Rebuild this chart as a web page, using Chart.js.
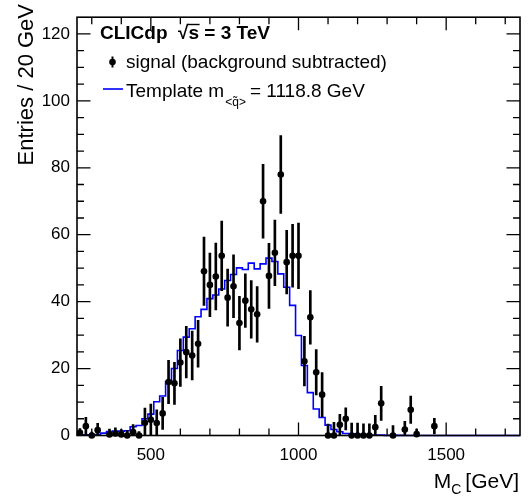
<!DOCTYPE html>
<html>
<head>
<meta charset="utf-8">
<script src="https://cdn.jsdelivr.net/npm/chart.js@4.4.0/dist/chart.umd.min.js"></script>
<style>
html,body{margin:0;padding:0;background:#fff;}
#wrap{width:528px;height:498px;position:relative;}
</style>
</head>
<body>
<div id="wrap"><canvas id="c" width="528" height="498"></canvas></div>
<script>
// ---- data ----
const binCenters = [260,280,300,320,340,360,380,400,420,440,460,480,500,520,540,560,580,600,620,640,
  660,680,700,720,740,760,780,800,820,840,860,880,900,920,940,960,980,1000,1020,1040,
  1060,1080,1100,1120,1140,1160,1180,1200,1220,1240,1260,1280,1300,1320,1340,1360,1380,1400,1420,1440,
  1460,1480,1500,1520,1540,1560,1580,1600,1620,1640,1660,1680,1700,1720,1740];
const binWidth = 20;
const signalValues = [0.8,2.8,0.0,1.6,null,0.3,0.6,0.3,0.0,1.0,0.0,3.8,4.7,3.7,6.6,16.0,15.6,21.8,24.9,23.9,
  27.4,49.1,45.0,47.5,53.7,41.2,44.6,33.6,40.3,37.7,36.2,70.0,47.7,54.6,78.0,51.8,53.7,53.7,22.2,35.3,
  18.9,12.2,0.0,0.0,3.2,5.0,0.0,0.0,0.0,0.0,2.5,9.6,null,0.0,null,1.8,7.7,0.4,null,null,
  2.8,null,null,null,null,null,null,null,null,null,null,null,null,null,null];
const signalErrors = [1.3,2.6,1.0,2.0,null,1.6,1.7,1.5,1.5,2.3,1.2,4.4,4.7,4.0,4.8,6.5,6.3,7.1,7.7,7.3,
  7.0,10.2,9.5,10.0,10.4,8.5,9.4,8.0,8.0,8.6,8.3,11.0,9.7,9.8,11.6,9.5,9.4,9.8,7.4,8.0,
  6.8,6.6,3.4,3.9,3.1,3.3,3.7,3.7,3.5,3.5,3.5,5.1,null,3.0,null,2.4,4.1,1.5,null,null,
  2.3,null,null,null,null,null,null,null,null,null,null,null,null,null,null];
const templateValues = [0.1,0.1,0.2,0.2,0.3,0.7,1.2,1.3,1.3,1.4,2.6,3.0,5.0,6.4,10.1,11.8,16.1,20.0,25.4,29.4,
  31.9,35.5,37.7,40.9,42.0,43.8,46.3,48.1,50.1,49.6,51.5,49.8,51.3,53.0,52.0,48.3,44.3,38.9,29.9,20.9,
  12.8,7.9,5.4,3.1,1.8,1.1,0.6,0.5,0.3,0.2,0.1,0.1,0.1,0.05,0.05,0.05,0,0,0,0,
  0,0,0,0,0,0,0,0,0,0,0,0,0,0,0];
const xTickVals = [500,1000,1500];
const yTickVals = [0,20,40,60,80,100,120];
const xRange = [250,1750];
const yRange = [0,125];

// ---- build library data ----
const stepData = binCenters.map((c,i)=>({x:c-binWidth/2, y:templateValues[i]}));
stepData.push({x:binCenters[binCenters.length-1]+binWidth/2, y:templateValues[templateValues.length-1]});
const pointData = [], errData = [];
binCenters.forEach((c,i)=>{
  if (signalValues[i]===null) return;
  pointData.push({x:c, y:signalValues[i]});
  errData.push({x:c, y:[signalValues[i]-signalErrors[i], signalValues[i]+signalErrors[i]]});
});

const FONT = '"Liberation Sans", Arial, Helvetica, sans-serif';

const decor = {
  id:'decor',
  afterDraw(chart){
    const {ctx, chartArea:a, scales:{x,y}} = chart;
    ctx.save();
    // ticks
    ctx.strokeStyle='#000'; ctx.lineWidth=1.3;
    ctx.beginPath();
    for (let v=300; v<=1700; v+=100){
      const px=x.getPixelForValue(v);
      const L = xTickVals.includes(v)?13:7;
      ctx.moveTo(px,a.bottom); ctx.lineTo(px,a.bottom-L);
      ctx.moveTo(px,a.top); ctx.lineTo(px,a.top+L);
    }
    for (let v=5; v<125; v+=5){
      const py=y.getPixelForValue(v);
      const L = (v%20===0)?13.5:7;
      ctx.moveTo(a.left,py); ctx.lineTo(a.left+L,py);
      ctx.moveTo(a.right,py); ctx.lineTo(a.right-L,py);
    }
    ctx.stroke();
    ctx.lineWidth=1.6;
    ctx.strokeRect(a.left,a.top,a.right-a.left,a.bottom-a.top);
    // axis titles
    ctx.fillStyle='#000';
    ctx.font='22px '+FONT;
    ctx.textBaseline='alphabetic';
    ctx.save();
    ctx.translate(33,4);
    ctx.rotate(-Math.PI/2);
    ctx.textAlign='right';
    ctx.fillText('Entries / 20 GeV',0,0);
    ctx.restore();
    // x title: M_C [GeV]
    ctx.font='21px '+FONT;
    ctx.textAlign='right';
    ctx.fillText('[GeV]',519,488);
    const wG = ctx.measureText('[GeV]').width;
    ctx.font='14px '+FONT;
    const wC = ctx.measureText('C ').width;
    ctx.fillText('C ',519-wG,494);
    ctx.font='21px '+FONT;
    ctx.fillText('M',519-wG-wC,488);
    // legend
    ctx.textAlign='left';
    ctx.font='bold 19px '+FONT;
    ctx.fillText('CLICdp',100,38.5);
    const sx = 100 + ctx.measureText('CLICdp  ').width;
    ctx.fillText('\u221As = 3 TeV', sx, 38.5);
    const wRoot = ctx.measureText('\u221A').width, wS = ctx.measureText('s').width;
    ctx.lineWidth=1.4;
    ctx.beginPath(); ctx.moveTo(sx+wRoot-1,24.5); ctx.lineTo(sx+wRoot+wS+0.5,24.5); ctx.stroke();
    // signal entry
    ctx.lineWidth=2;
    ctx.beginPath(); ctx.moveTo(112.5,56.5); ctx.lineTo(112.5,67.5); ctx.stroke();
    ctx.beginPath(); ctx.arc(112.5,62,3.3,0,Math.PI*2); ctx.fill();
    ctx.font='19px '+FONT;
    ctx.fillText('signal (background subtracted)',126,68);
    // template entry
    ctx.strokeStyle='rgb(0,0,255)'; ctx.lineWidth=1.6;
    ctx.beginPath(); ctx.moveTo(103,89); ctx.lineTo(123,89); ctx.stroke();
    ctx.fillText('Template m',126,96.5);
    let tx = 126 + ctx.measureText('Template m').width + 1;
    ctx.font='12px '+FONT;
    ctx.fillText('<q\u0303>',tx,106);
    tx += ctx.measureText('<q\u0303>').width + 4;
    ctx.font='19px '+FONT;
    ctx.fillText('= 1118.8 GeV',tx,96.5);
    ctx.restore();
  }
};

new Chart(document.getElementById('c'), {
  type:'scatter',
  data:{
    datasets:[
      {type:'line', data:stepData, stepped:'after', borderColor:'rgb(0,0,255)', borderWidth:1.6,
       pointRadius:0, fill:false, order:3, clip:3},
      {type:'bar', data:errData, backgroundColor:'#000', borderWidth:0, barThickness:2,
       categoryPercentage:1, barPercentage:1, order:2, grouped:false},
      {type:'scatter', data:pointData, backgroundColor:'#000', borderColor:'#000',
       pointRadius:3.3, pointBorderWidth:0, order:1, clip:false}
    ]
  },
  options:{
    responsive:false, animation:false, devicePixelRatio:1, events:[],
    layout:{padding:{left:0,right:8,top:5,bottom:0}},
    plugins:{legend:{display:false}, tooltip:{enabled:false}},
    scales:{
      x:{type:'linear', min:xRange[0], max:xRange[1], offset:false,
         grid:{display:false, drawTicks:false}, border:{display:false},
         ticks:{font:{size:17,family:FONT}, color:'#000', padding:10, maxRotation:0,
                callback:(v)=>String(v)},
         afterBuildTicks:(s)=>{s.ticks = xTickVals.map(v=>({value:v}));},
         afterFit:(s)=>{s.height=62.5;}},
      y:{type:'linear', min:yRange[0], max:yRange[1],
         grid:{display:false, drawTicks:false}, border:{display:false},
         ticks:{font:{size:17,family:FONT}, color:'#000', padding:7, callback:(v)=>String(v)},
         afterBuildTicks:(s)=>{s.ticks = yTickVals.map(v=>({value:v}));},
         afterFit:(s)=>{s.height=s.height; s.width=77;}}
    }
  },
  plugins:[decor]
});
</script>
</body>
</html>
